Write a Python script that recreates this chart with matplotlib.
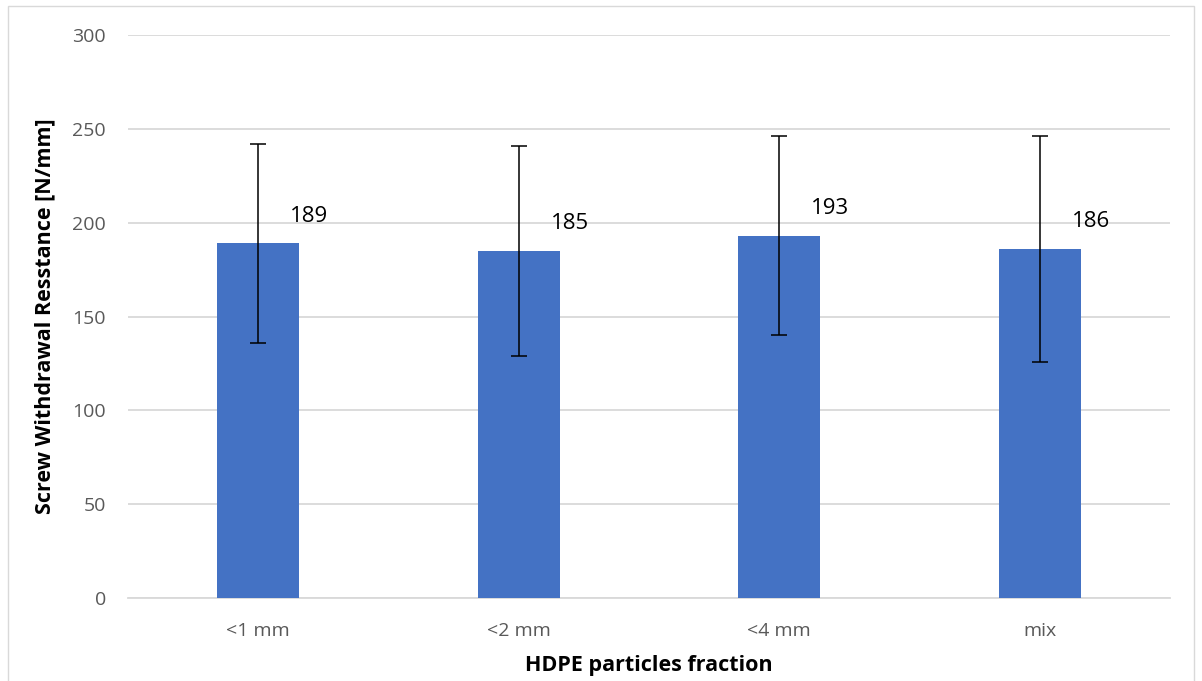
import matplotlib
matplotlib.use("Agg")
import matplotlib.pyplot as plt
from matplotlib.patches import Rectangle

categories = ["<1 mm", "<2 mm", "<4 mm", "mix"]
values = [189, 185, 193, 186]
errors = [53, 56, 53, 60]
labels = ["189", "185", "193", "186"]

plt.rcParams['font.family'] = ['Open Sans', 'DejaVu Sans']

fig = plt.figure(figsize=(12.02, 6.81), dpi=100)
ax = fig.add_axes([128/1202, 1-598/681, (1170-128)/1202, (598-35)/681])

x = list(range(len(categories)))
ax.bar(x, values, width=0.315, color="#4472C4", zorder=3)
ax.errorbar(x, values, yerr=errors, fmt='none', ecolor='black',
            elinewidth=1.1, capsize=6, capthick=1.1, zorder=4)
for xi, v, lab in zip(x, values, labels):
    ax.annotate(lab, (xi, v), xytext=(51, 27), textcoords='offset pixels',
                ha='center', va='center', fontsize=16, color='black')

ax.set_xlim(-0.5, 3.5)
ax.set_ylim(0, 300)
ax.set_yticks(range(0, 301, 50))
ax.set_xticks(x)
ax.set_xticklabels(categories)
ax.yaxis.grid(True, color='#d9d9d9', linewidth=1.3, zorder=0)
for s in ['top', 'right', 'left']:
    ax.spines[s].set_visible(False)
ax.spines['bottom'].set_color('#d9d9d9')
ax.spines['bottom'].set_linewidth(1.3)
ax.tick_params(axis='both', length=0, labelsize=14, labelcolor='#595959')
ax.tick_params(axis='y', pad=16)
ax.tick_params(axis='x', pad=17)

ax.set_ylabel("Screw Withdrawal Resstance [N/mm]", fontsize=15.5, fontweight='bold', labelpad=12)
ax.set_xlabel("HDPE particles fraction", fontsize=15.5, fontweight='bold', labelpad=11)

fig.patches.append(Rectangle((8/1202, -0.05), (1194-8)/1202, 1-6/681+0.05,
                             transform=fig.transFigure, fill=False,
                             edgecolor='#d9d9d9', linewidth=1))

fig.savefig("out.png", dpi=100)
